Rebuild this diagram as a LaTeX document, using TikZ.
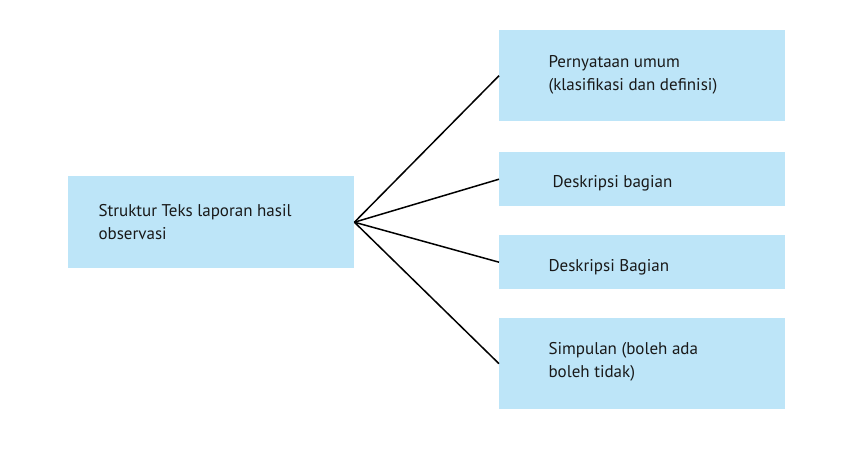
\documentclass[tikz,border=0pt]{standalone}
\usepackage{fontspec}
\setmainfont{PT Sans}
\begin{document}
\begin{tikzpicture}[x=1pt,y=-1pt,
  box/.style={fill={rgb,255:red,189;green,229;blue,248},draw=none,inner sep=0pt,anchor=north west},
  lbl/.style={anchor=west,align=left,font=\fontsize{17}{23}\selectfont,text=black!90},
  con/.style={draw=black,line width=1.5pt}]
\useasboundingbox (0,0) rectangle (859,448);
\node[box,minimum width=286pt,minimum height=92pt] (s) at (68,176) {};
\node[box,minimum width=286pt,minimum height=91pt] (a) at (499,30) {};
\node[box,minimum width=286pt,minimum height=54pt] (b) at (499,152) {};
\node[box,minimum width=286pt,minimum height=54pt] (c) at (499,235) {};
\node[box,minimum width=286pt,minimum height=91pt] (d) at (499,318) {};
\node[lbl] (st) at (95,222) {Struktur Teks laporan hasil\\observasi};
\node[lbl] (at) at (545,75) {Pernyataan umum\\(klasifikasi dan definisi)};
\node[lbl] (bt) at (549,183) {Deskripsi bagian};
\node[lbl] (ct) at (545,267) {Deskripsi Bagian};
\node[lbl] (dt) at (545,362) {Simpulan (boleh ada\\boleh tidak)};
\coordinate (o) at (s.east);
\draw[con] (o) -- (a.west);
\draw[con] (o) -- (b.west);
\draw[con] (o) -- (c.west);
\draw[con] (o) -- (d.west);
\end{tikzpicture}
\end{document}
